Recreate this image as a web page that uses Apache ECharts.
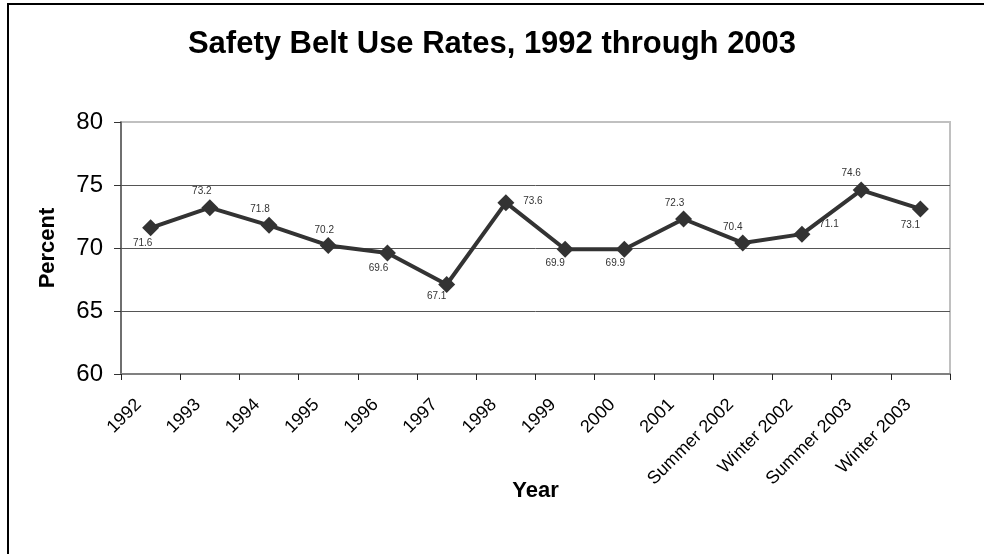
<!DOCTYPE html>
<html>
<head>
<meta charset="utf-8">
<script src="https://cdn.jsdelivr.net/npm/echarts@6/dist/echarts.min.js"></script>
<style>html,body{margin:0;padding:0;background:#fff}#c{width:984px;height:554px}</style>
</head>
<body>
<div id="c"></div>
<script>
const categories = ['1992','1993','1994','1995','1996','1997','1998','1999','2000','2001','Summer 2002','Winter 2002','Summer 2003','Winter 2003'];
const values = [71.6, 73.2, 71.8, 70.2, 69.6, 67.1, 73.6, 69.9, 69.9, 72.3, 70.4, 71.1, 74.6, 73.1];
const yTicks = [60, 65, 70, 75, 80];
const titleText = 'Safety Belt Use Rates, 1992 through 2003';
// label placement (styling only)
const labelOffsets = [[-8,15],[-8,-16],[-9,-16],[-4,-15],[-9,15],[-10,12],[27,-1],[-10,14],[-9,14],[-9,-16],[-10,-16],[27,-10],[-10,-17],[-10,16]];

const chart = echarts.init(document.getElementById('c'), null, {renderer:'canvas'});
const font = 'Arial, "Liberation Sans", sans-serif';
chart.setOption({
  animation: false,
  backgroundColor: '#fff',
  textStyle: { fontFamily: font },
  title: {
    text: titleText, left: 'center', top: 24,
    textStyle: { fontFamily: font, fontSize: 31, fontWeight: 'bold', color: '#000' }
  },
  graphic: [{
    type: 'rect', shape: { x: 8, y: 4, width: 1000, height: 600 },
    style: { fill: 'none', stroke: '#000', lineWidth: 2 }, silent: true
  }],
  grid: { left: 121, right: 34, top: 122, bottom: 180, show: true, borderColor: '#c0c0c0', borderWidth: 2, backgroundColor: 'transparent' },
  xAxis: {
    type: 'category', data: categories, boundaryGap: true,
    name: 'Year', nameLocation: 'middle', nameGap: 106, nameMoveOverlap: false,
    nameTextStyle: { fontFamily: font, fontSize: 22, fontWeight: 'bold', color: '#000' },
    axisLine: { lineStyle: { color: '#808080', width: 2 } },
    axisTick: { show: true, alignWithLabel: false, length: 6, lineStyle: { color: '#222', width: 1 } },
    axisLabel: { rotate: 45, fontSize: 18, color: '#000', margin: 16, padding: [0, 17, 0, 0], interval: 0, fontFamily: font },
    splitLine: { show: false }
  },
  yAxis: {
    type: 'value', min: yTicks[0], max: yTicks[yTicks.length-1], interval: 5,
    name: 'Percent', nameLocation: 'middle', nameGap: 62, nameRotate: 90, nameMoveOverlap: false,
    nameTextStyle: { fontFamily: font, fontSize: 22, fontWeight: 'bold', color: '#000' },
    axisLine: { show: true, lineStyle: { color: '#555', width: 1.5 } },
    axisTick: { show: true, length: 7, lineStyle: { color: '#333', width: 1 } },
    axisLabel: { fontSize: 24, color: '#000', margin: 18, fontFamily: font },
    splitLine: { show: true, lineStyle: { color: ['#808080','#555','#555','#555','#c0c0c0'], width: 1 } }
  },
  series: [{
    type: 'line',
    data: values.map((v, i) => ({
      value: v,
      label: { show: true, position: 'inside', offset: labelOffsets[i] }
    })),
    symbol: 'diamond', symbolSize: 17,
    itemStyle: { color: '#333333' },
    lineStyle: { color: '#333333', width: 4 },
    label: { show: true, fontSize: 10, color: '#333', fontFamily: font, formatter: p => p.value.toFixed(1) },
    z: 5
  }]
});
</script>
</body>
</html>
